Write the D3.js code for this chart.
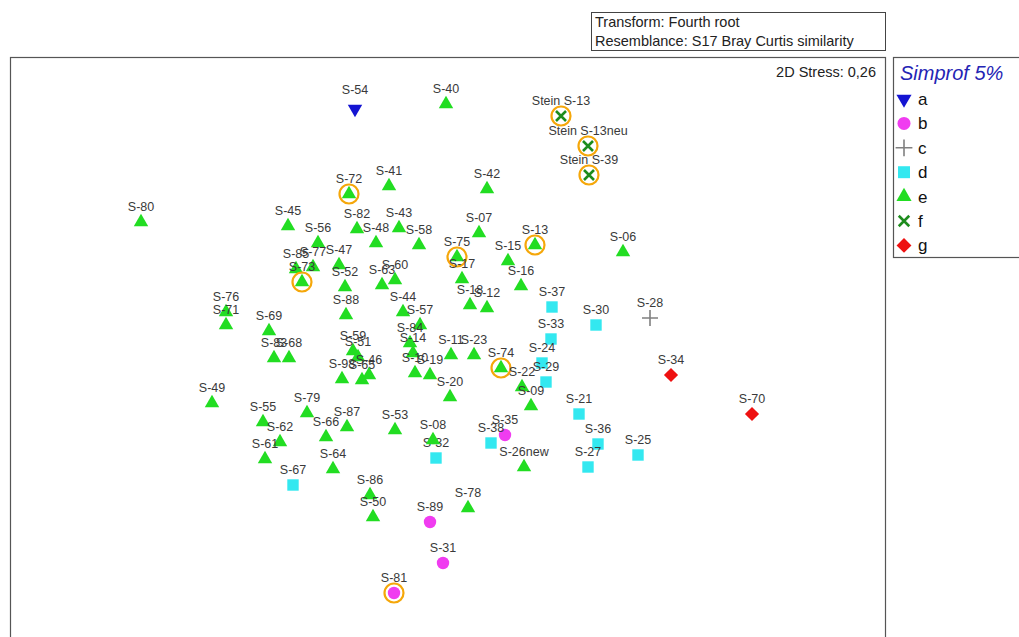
<!DOCTYPE html>
<html>
<head>
<meta charset="utf-8">
<title>nMDS Simprof</title>
<script src="https://d3js.org/d3.v7.min.js"></script>
<style>
  body { margin: 0; background: #fff; }
  svg { font-family: "Liberation Sans", Arial, sans-serif; }
</style>
</head>
<body>
<div id="chart"></div>
<script>
// sample names, MDS coordinates (MDS1, MDS2) and Simprof groups
var names = ["S-54",
  "S-35","S-89","S-31","S-81",
  "S-28",
  "S-37","S-30","S-33","S-24","S-29","S-21","S-36","S-27","S-25","S-38","S-32","S-67",
  "Stein S-13","Stein S-13neu","Stein S-39",
  "S-34","S-70",
  "S-40","S-72","S-41","S-42","S-80","S-45","S-82","S-48","S-43","S-58","S-07","S-56",
  "S-85","S-77","S-73","S-47","S-52","S-63","S-60","S-88","S-44","S-57","S-84","S-14",
  "S-10","S-19","S-11","S-23","S-74","S-22","S-09","S-20","S-53","S-08","S-26new",
  "S-75","S-17","S-13","S-15","S-16","S-18","S-12","S-06","S-76","S-71","S-69","S-83",
  "S-68","S-49","S-55","S-62","S-61","S-79","S-66","S-87","S-64","S-86","S-50","S-78",
  "S-59","S-51","S-98","S-65","S-46"];
var mds1 = [-0.95,
  0.55,-0.20,-0.07,-0.56,
  2.00,
  1.02,1.46,1.01,0.92,0.96,1.29,1.48,1.38,1.88,0.41,-0.14,-1.57,
  1.11,1.38,1.39,
  2.21,3.02,
  -0.04,-1.01,-0.61,0.37,-3.09,-1.62,-0.93,-0.74,-0.51,-0.31,0.29,-1.32,
  -1.54,-1.37,-1.48,-1.11,-1.05,-0.68,-0.55,-1.04,-0.47,-0.30,-0.40,-0.37,
  -0.35,-0.20,0.01,0.24,0.51,0.72,0.81,0.00,-0.55,-0.17,0.74,
  0.07,0.12,0.85,0.58,0.71,0.20,0.37,1.73,-2.24,-2.24,-1.81,-1.76,
  -1.61,-2.38,-1.87,-1.70,-1.85,-1.43,-1.24,-1.03,-1.17,-0.80,-0.77,0.18,
  -0.97,-0.92,-1.08,-0.88,-0.81];
var mds2 = [2.41,
  -0.85,-1.72,-2.13,-2.43,
  0.32,
  0.43,0.25,0.11,-0.13,-0.32,-0.64,-0.94,-1.17,-1.05,-0.93,-1.08,-1.35,
  2.34,2.04,1.75,
  -0.25,-0.64,
  2.46,1.56,1.64,1.61,1.28,1.24,1.21,1.07,1.22,1.05,1.17,1.07,
  0.81,0.83,0.68,0.85,0.63,0.65,0.70,0.35,0.38,0.25,0.07,-0.03,
  -0.23,-0.25,-0.05,-0.05,-0.18,-0.37,-0.56,-0.47,-0.80,-0.90,-1.17,
  0.93,0.71,1.05,0.89,0.64,0.45,0.42,0.98,0.38,0.25,0.19,-0.08,
  -0.08,-0.53,-0.72,-0.92,-1.09,-0.63,-0.87,-0.77,-1.19,-1.45,-1.67,-1.58,
  -0.01,-0.07,-0.29,-0.30,-0.25];
var groups = ["a",
  "b","b","b","b",
  "c",
  "d","d","d","d","d","d","d","d","d","d","d","d",
  "f","f","f",
  "g","g"];
// the remaining samples are all group e
while (groups.length < names.length) groups.push("e");

var highlighted = ["S-72","S-73","S-75","S-13","S-74","S-81","Stein S-13","Stein S-13neu","Stein S-39"];

var groupNames = ["a","b","c","d","e","f","g"];
var groupColors = ["#1414d2","#f03cf0","#808080","#33e8f0","#22dd22","#1d8c1d","#ee1111"];

var data = names.map(function(n, i) {
  return {name: n, x: mds1[i], y: mds2[i], group: groups[i]};
});

var width = 1019, height = 637;
var svg = d3.select("#chart").append("svg")
  .attr("width", width)
  .attr("height", height);

var plot = {left: 10, top: 57, right: 885, bottom: 637};

var x = d3.scaleLinear().domain([-4.4, 4.35]).range([plot.left, plot.right]);
var y = d3.scaleLinear().domain([2.93, -2.87]).range([plot.top, plot.bottom]);
var color = d3.scaleOrdinal().domain(groupNames).range(groupColors);

// transform box
svg.append("rect")
  .attr("x", 591.5).attr("y", 12.5).attr("width", 294).attr("height", 38)
  .attr("fill", "none").attr("stroke", "#444").attr("stroke-width", 1);
svg.append("text").attr("x", 595).attr("y", 27)
  .attr("font-size", 14.5).attr("fill", "#222").text("Transform: Fourth root");
svg.append("text").attr("x", 595).attr("y", 46)
  .attr("font-size", 14.5).attr("fill", "#222").text("Resemblance: S17 Bray Curtis similarity");

// plot frame
svg.append("rect")
  .attr("x", plot.left + 0.5).attr("y", plot.top + 0.5)
  .attr("width", plot.right - plot.left).attr("height", plot.bottom - plot.top + 10)
  .attr("fill", "none").attr("stroke", "#555").attr("stroke-width", 1.2);

svg.append("text")
  .attr("x", 876).attr("y", 77)
  .attr("text-anchor", "end")
  .attr("font-size", 14.5).attr("fill", "#222")
  .text("2D Stress: 0,26");

// draws one marker of a group at (0,0) inside g
function drawMarker(g, group, scale) {
  var c = color(group);
  scale = scale || 1;
  if (group === "a") {
    g.append("path").attr("d", d3.symbol(d3.symbolTriangle, 90 * scale * scale)())
      .attr("transform", "rotate(180)").attr("fill", c);
  } else if (group === "b") {
    g.append("circle").attr("r", 6.2 * scale).attr("fill", c);
  } else if (group === "c") {
    var s = 8 * scale;
    g.append("path").attr("d", "M" + (-s) + ",0H" + s + "M0," + (-s) + "V" + s)
      .attr("stroke", c).attr("stroke-width", 1.6).attr("fill", "none");
  } else if (group === "d") {
    g.append("path").attr("d", d3.symbol(d3.symbolSquare, 130 * scale * scale)()).attr("fill", c);
  } else if (group === "e") {
    g.append("path").attr("d", d3.symbol(d3.symbolTriangle, 90 * scale * scale)()).attr("fill", c);
  } else if (group === "f") {
    var k = 5 * scale;
    g.append("path").attr("d", "M" + (-k) + "," + (-k) + "L" + k + "," + k + "M" + (-k) + "," + k + "L" + k + "," + (-k))
      .attr("stroke", c).attr("stroke-width", 2.6).attr("fill", "none");
  } else if (group === "g") {
    // diamond as a rotated square
    g.append("path").attr("d", d3.symbol(d3.symbolSquare, 100 * scale * scale)())
      .attr("transform", "rotate(45)").attr("fill", c);
  }
}

var points = svg.append("g").selectAll("g.pt")
  .data(data)
  .enter()
  .append("g")
  .attr("class", "pt")
  .attr("transform", function(d) { return "translate(" + x(d.x) + "," + y(d.y) + ")"; });

points.each(function(d) {
  var g = d3.select(this);
  drawMarker(g, d.group);
  if (highlighted.indexOf(d.name) >= 0) {
    g.append("circle").attr("r", 9.5)
      .attr("fill", "none").attr("stroke", "#f5a70a").attr("stroke-width", 2.2);
  }
});

points.append("text")
  .attr("y", function(d) { return d.group === "a" ? -15 : -11; })
  .attr("text-anchor", "middle")
  .attr("font-size", 12.5)
  .attr("fill", "#3a3a3a")
  .text(function(d) { return d.name; });

// legend
svg.append("rect")
  .attr("x", 893.5).attr("y", 57.5).attr("width", 140).attr("height", 200)
  .attr("fill", "none").attr("stroke", "#555").attr("stroke-width", 1.2);
svg.append("text")
  .attr("x", 900).attr("y", 80)
  .attr("font-size", 20).attr("font-style", "italic").attr("fill", "#2424b4")
  .text("Simprof 5%");

var legend = svg.append("g").selectAll("g.leg")
  .data(groupNames)
  .enter()
  .append("g")
  .attr("class", "leg")
  .attr("transform", function(d, i) { return "translate(904," + (99 + i * 24.4) + ")"; });

legend.each(function(d) { drawMarker(d3.select(this), d, 1.05); });
legend.append("text")
  .attr("x", 14).attr("y", 6)
  .attr("font-size", 17).attr("fill", "#111")
  .text(function(d) { return d; });
</script>
</body>
</html>
